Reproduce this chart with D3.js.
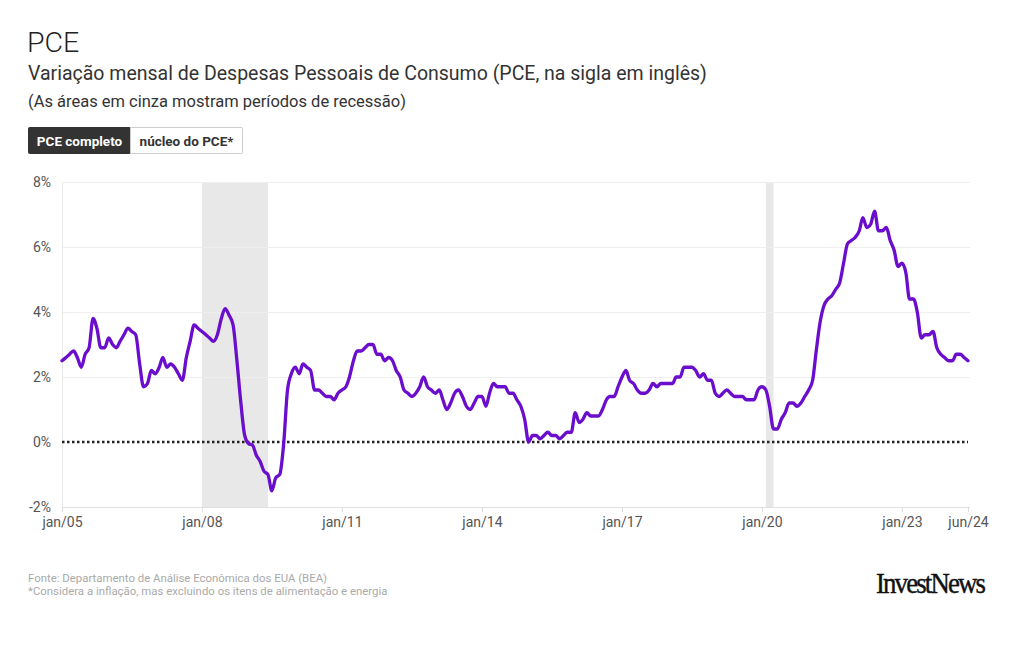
<!DOCTYPE html>
<html><head><meta charset="utf-8">
<script src="https://cdn.jsdelivr.net/npm/d3@7"></script>
<style>
body{margin:0;background:#fff;}
</style></head><body>
<svg id="c" width="1020" height="650" font-family="Roboto, 'Noto Sans', sans-serif"></svg>
<script>
const startMonth = "2005-01";
const pceValues = [
 2.5,2.6,2.7,2.8,2.6,2.3,2.7,2.9,3.8,3.5,2.9,2.9,
 3.2,3.0,2.9,3.1,3.3,3.5,3.4,3.3,2.4,1.7,1.8,2.2,
 2.1,2.3,2.6,2.3,2.4,2.3,2.1,1.9,2.6,3.1,3.6,3.5,
 3.4,3.3,3.2,3.1,3.3,3.8,4.1,3.9,3.6,2.5,1.2,0.2,
 -0.05,-0.1,-0.4,-0.6,-0.9,-1.0,-1.5,-1.1,-1.0,-0.1,1.6,2.1,
 2.3,2.1,2.4,2.3,2.2,1.6,1.6,1.5,1.4,1.4,1.3,1.5,
 1.6,1.7,2.0,2.5,2.8,2.8,2.9,3.0,3.0,2.7,2.7,2.5,
 2.6,2.5,2.2,2.0,1.6,1.5,1.4,1.5,1.7,2.0,1.7,1.6,
 1.5,1.6,1.3,1.0,1.2,1.5,1.6,1.4,1.1,1.0,1.2,1.4,
 1.4,1.1,1.5,1.8,1.7,1.7,1.7,1.5,1.5,1.3,1.1,0.7,
 0.0,0.2,0.2,0.1,0.2,0.3,0.2,0.2,0.1,0.2,0.3,0.3,
 0.9,0.6,0.7,0.9,0.8,0.8,0.8,1.0,1.3,1.4,1.4,1.7,
 2.0,2.2,1.9,1.8,1.6,1.5,1.5,1.6,1.8,1.7,1.8,1.8,
 1.8,1.8,2.0,2.0,2.3,2.3,2.3,2.2,2.0,2.1,1.9,1.9,
 1.5,1.4,1.5,1.6,1.5,1.4,1.4,1.4,1.3,1.3,1.3,1.6,
 1.7,1.6,1.1,0.4,0.4,0.7,0.9,1.2,1.2,1.1,1.2,1.4,
 1.6,1.9,2.8,3.7,4.2,4.4,4.5,4.7,4.9,5.5,6.1,6.2,
 6.3,6.5,6.9,6.6,6.7,7.1,6.5,6.5,6.6,6.2,5.9,5.4,
 5.5,5.2,4.4,4.4,4.0,3.2,3.3,3.3,3.4,2.9,2.7,2.6,
 2.5,2.5,2.7,2.7,2.6,2.5
];
const recessionStarts = ["2008-01","2020-02"];
const recessionEnds = ["2009-06","2020-04"];
const xTickDates = ["2005-01","2008-01","2011-01","2014-01","2017-01","2020-01","2023-01","2024-06"];
const xTickLabels = ["jan/05","jan/08","jan/11","jan/14","jan/17","jan/20","jan/23","jun/24"];
const yTicks = [-2,0,2,4,6,8];
const buttonLabels = ["PCE completo","núcleo do PCE*"];
const footnotes = ["Fonte: Departamento de Análise Econômica dos EUA (BEA)","*Considera a inflação, mas excluindo os itens de alimentação e energia"];

const parse = d3.timeParse("%Y-%m");
const s0 = parse(startMonth);
const data = pceValues.map((v,i)=>({date:d3.timeMonth.offset(s0,i), value:v}));

const svg = d3.select("#c");
const m = {left:62, right:968, top:182, bottom:507};
const x = d3.scaleTime().domain([data[0].date, data[data.length-1].date]).range([m.left, m.right]);
const y = d3.scaleLinear().domain([-2,8]).range([m.bottom, m.top]);

// Titles
svg.append("text").attr("x",27).attr("y",52).attr("font-size",28.5).attr("font-weight",300).attr("fill","#222").text("PCE");
svg.append("text").attr("x",28).attr("y",80).attr("font-size",19.5).attr("fill","#333").text("Variação mensal de Despesas Pessoais de Consumo (PCE, na sigla em inglês)");
svg.append("text").attr("x",28).attr("y",107).attr("font-size",16.5).attr("fill","#333").text("(As áreas em cinza mostram períodos de recessão)");

// Buttons
const bw = [102,112];
let bx = 28;
buttonLabels.forEach((t,i)=>{
  svg.append("rect").attr("x",bx+0.5).attr("y",127.5).attr("width",bw[i]).attr("height",26)
    .attr("fill", i===0?"#333":"#fff").attr("stroke", i===0?"#333":"#ccc").attr("rx",1);
  svg.append("text").attr("x",bx+bw[i]/2+0.5).attr("y",145.5).attr("text-anchor","middle")
    .attr("font-size",13.5).attr("font-weight",700).attr("fill", i===0?"#fff":"#333").text(t);
  bx += bw[i];
});

// Recession bands
recessionStarts.forEach((s,i)=>{
  const a = x(parse(s)), b = x(parse(recessionEnds[i]));
  svg.append("rect").attr("x",a).attr("y",m.top).attr("width",b-a).attr("height",m.bottom-m.top).attr("fill","#e8e8e8");
});

// Grid
const g = svg.append("g");
yTicks.forEach(t=>{
  if(t===0) return;
  g.append("line").attr("x1",m.left).attr("x2",m.right+2).attr("y1",y(t)+0.5).attr("y2",y(t)+0.5)
    .attr("stroke", t===-2?"#e0e0e0":"#eeeeee").attr("stroke-width",1);
});
g.append("line").attr("x1",m.left+0.5).attr("x2",m.left+0.5).attr("y1",m.top).attr("y2",m.bottom).attr("stroke","#eaeaea");

// Y axis labels
const yAxis = d3.axisLeft(y).tickValues(yTicks).tickFormat(d=>d+"%").tickSize(0).tickPadding(0);
const ya = svg.append("g").attr("transform",`translate(${m.left-11},0)`).call(yAxis);
ya.select(".domain").remove();
ya.selectAll("text").attr("font-size",14).attr("fill","#555").attr("font-family","Roboto");

// X axis
const xAxis = d3.axisBottom(x).tickValues(xTickDates.map(parse)).tickFormat((d,i)=>xTickLabels[i]).tickSize(5).tickPadding(5);
const xa = svg.append("g").attr("transform",`translate(0,${m.bottom})`).call(xAxis);
xa.select(".domain").remove();
xa.selectAll("line").attr("stroke","#ddd");
xa.selectAll("text").attr("font-size",14).attr("fill","#555").attr("font-family","Roboto");

// Zero line
svg.append("line").attr("x1",m.left).attr("x2",m.right).attr("y1",y(0)).attr("y2",y(0))
  .attr("stroke","#222").attr("stroke-width",2.5).attr("stroke-dasharray","2.5,2.5");

// Line
const line = d3.line().x(d=>x(d.date)).y(d=>y(d.value)).curve(d3.curveMonotoneX);
svg.append("path").datum(data).attr("d",line).attr("fill","none").attr("stroke","#6a0dcc")
  .attr("stroke-width",3.3).attr("stroke-linejoin","round").attr("stroke-linecap","round");

// Footer
footnotes.forEach((t,i)=>{
  svg.append("text").attr("x",28).attr("y",582+i*13).attr("font-size",11.4).attr("fill","#aaa").text(t);
});
svg.append("text").attr("x",876).attr("y",593).attr("font-size",29).attr("font-family","'Liberation Serif', 'DejaVu Serif', serif")
  .attr("textLength",108).attr("lengthAdjust","spacingAndGlyphs").attr("letter-spacing",-2).attr("fill","#111")
  .attr("stroke","#111").attr("stroke-width",0.4).text("InvestNews");
</script>
</body></html>
